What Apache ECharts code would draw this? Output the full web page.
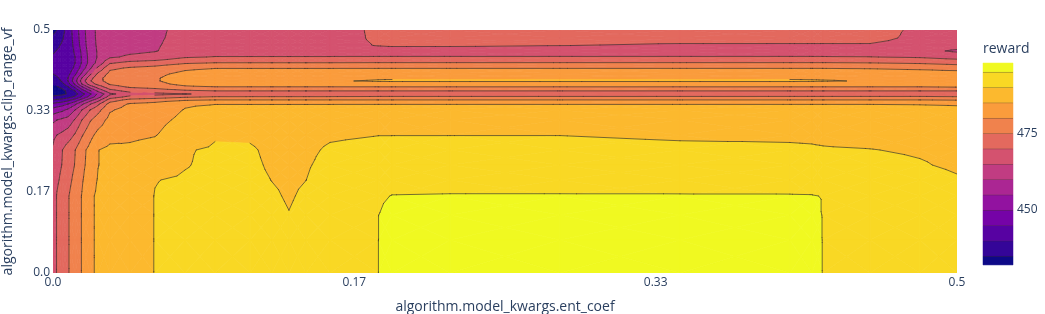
<!DOCTYPE html>
<html><head><meta charset="utf-8">
<script src="https://cdn.jsdelivr.net/npm/echarts@6/dist/echarts.min.js"></script>
<style>html,body{margin:0;padding:0;background:#fff}#chart{width:1045px;height:314px}</style>
</head><body><div id="chart"></div>
<script>
// ---- data ----
const entCoef = [0, 0.0022, 0.005, 0.0083, 0.0122, 0.016, 0.0205, 0.0249, 0.0315, 0.0426, 0.0564, 0.073, 0.0896, 0.109, 0.1211, 0.1305, 0.1399, 0.1532, 0.1798, 0.1875, 0.2196, 0.2804, 0.3468, 0.4076, 0.4198, 0.4259, 0.4519, 0.4795, 0.5];
const clipRangeVf = [0.5, 0.4835, 0.4691, 0.4568, 0.4444, 0.4321, 0.4218, 0.4095, 0.4012, 0.3951, 0.3889, 0.3827, 0.3745, 0.3683, 0.3621, 0.356, 0.3477, 0.3354, 0.3148, 0.284, 0.2531, 0.2222, 0.1914, 0.1584, 0.1193, 0.0679, 0];
// reward[i][j] = reward at entCoef[i], clipRangeVf[j]
const reward = [
[433.5,436,438,439.5,440.5,441,441,440,438.5,437,435.5,433.5,432.1,433,436,440,446,452,459,464,465.5,466.5,467,467.5,467.5,467.6,467.7],
[435,437.5,439.2,440.2,440.8,441.2,441.2,440.8,439.5,438.5,436.5,434.5,432.6,433.5,436.5,440.8,447,453,460,465,468.3,468.6,469.3,470.3,470.3,470.3,470.3],
[438.5,439.5,440.5,440.8,441,441.3,441.5,441.5,441,440.5,438.5,436,433.5,434,437,441.5,448,454,461,466,469.8,470.1,471,472.2,472.2,472.2,472.2],
[442,442,441.8,441.5,441.5,441.5,442,443.5,445,445,443,439.5,436,435.5,438.5,443.5,450,456,462,467.5,472.5,472.7,473.5,474.6,474.6,474.6,474.6],
[447.5,447,446.5,445.8,445,445,446,449,452,453,451,446,440,438,441,447,454,460,465.5,470.5,474.9,475.2,476.3,477.5,477.5,477.5,477.5],
[452.5,452.2,451.8,451,450.5,450.5,452,456,460,462,460,454,447,443,446,452,459,465,470,474.5,478.5,478.8,479.5,480.2,480.2,480.2,480.2],
[458.5,458.3,458,457.5,457,457,459,464,468,469.5,467.5,462,454,449,452,458,464.5,470,474.5,478.5,481.5,481.8,482.8,484.1,484.1,484.1,484.1],
[460.8,460.8,460.7,460.5,460.5,461.5,466,471,473.5,473.5,471.5,467,461,456,458,463,469,473.5,477.5,481.5,484.9,484.9,485.3,485.8,485.8,485.8,485.8],
[462,462.3,462.6,463,464.3,469.5,474,476.5,477.2,477,475.5,473,468,464,467.5,472.5,477,479.5,481.5,483.5,486,486.3,486.5,486.6,486.6,486.6,486.6],
[463,463.3,463.6,464,465.8,471.5,475.5,477.8,478.5,478.5,477.5,475.5,471.5,467.5,471.5,476.5,480.5,481.8,483,484.2,485.8,487,487.7,488,488,488,488],
[464.3,464.4,464.6,464.8,466.5,472.5,476.5,478.8,479.5,479.5,478.5,476.5,472.5,468.5,472.5,477.8,481.5,482.8,483.8,484.8,486.6,488.5,489.9,490.1,490.1,490.1,490.1],
[466,466.2,466.5,466.8,469.5,474.5,479,481.3,482.3,482.5,481.5,479,474,469.8,474.5,479.5,484.5,485.2,486,487.5,489.7,489.8,490.4,490.8,491.1,491.3,491.3],
[467.2,467.4,467.6,467.8,470.2,475.2,479.8,482.5,483.8,484.2,482.8,479.8,474.9,470.8,475.5,480.1,484.9,486.2,487.3,489.6,490.5,490.8,491,491.3,491.5,491.5,491.5],
[467.6,467.8,468,467.8,470.2,475.2,479.8,482.5,483.8,484.2,482.8,479.8,474.9,471.5,475.5,480.1,484.9,486.2,487.3,489.5,490.4,490.6,490.8,491,491.2,491.3,491.3],
[468,468,468,467.8,470.2,475.2,479.8,482.5,483.8,484.2,482.8,479.8,474.9,471.5,475.5,480.1,484.9,486.2,487.3,488.8,489.3,489.6,489.95,490.4,490.8,491,491],
[468,468,468,467.8,470.2,475.2,479.8,482.5,483.8,484.2,482.8,479.8,474.9,471.5,475.5,480.1,484.9,486.2,487.3,488.5,489,489.3,489.5,489.7,490.1,490.6,490.9],
[468,468,468,467.8,470.2,475.2,479.8,482.5,483.8,484.2,482.8,479.8,474.9,471.5,475.5,480.1,484.9,486.2,487.3,489,489.4,489.7,489.98,490.5,490.9,491.1,491.2],
[468,468,468,467.8,470.2,475.2,479.8,482.6,484,484.7,482.9,479.8,474.9,471.8,475.5,480.1,484.9,486.3,487.5,489.6,490.4,490.9,491.4,491.8,492,492,492],
[470.8,470.7,470.3,468.3,470.2,475.3,479.8,483,484.6,485.3,483.2,479.8,474.9,472.5,475.6,480.1,484.9,486.5,487.8,489.95,490.9,491.8,493,494.5,494.95,494.95,494.95],
[471.3,471.2,470.6,468.2,470.2,475.3,479.8,483,484.6,485.4,483.2,479.8,474.9,472.5,475.6,480.1,484.9,486.5,487.8,489.95,491.1,492.2,493.7,495.1,496,496.8,497],
[472,471.5,470.6,468.2,470.2,475.3,479.8,483,484.6,485.4,483.2,479.8,474.9,472.5,475.6,480.1,484.9,486.5,487.8,489.95,491.2,492.4,493.8,495.2,496.2,497.2,497.3],
[472,471.5,470.2,468.2,470.2,475.3,479.8,483,484.6,485.4,483.2,479.8,474.9,472.5,475.6,480.1,484.9,486.5,487.8,489.95,491.2,492.4,493.8,495.2,496.4,497.5,497.9],
[472,471.5,469.6,468.2,470.2,475.3,479.8,483,484.6,485.4,483.2,479.8,474.9,472.5,475.6,480.1,484.9,486.5,487.8,489.5,490.8,492,493.7,495.2,496.4,497.4,497.8],
[472,471.5,469.6,468.2,470.2,475.3,479.8,483,484.6,485.4,483.2,479.8,474.9,472.5,475.6,480.1,484.9,486.5,487.8,489.5,490.5,491.8,493.5,495.2,496.2,496.8,497],
[472,471.5,469.6,468.2,470.2,475.3,479.8,483,484.6,485.3,483.2,479.8,474.9,472.5,475.6,480.1,484.9,486.5,487.8,489.4,490.4,491.7,493.3,495.15,495.8,496.2,496.3],
[472,471.5,469.6,468,470.2,475.3,479.8,483,484.6,485.2,483.2,479.8,474.9,472.5,475.6,480.1,484.9,486.5,487.8,489.2,490.3,491.5,492.7,494.9,494.9,494.9,494.9],
[472,471.5,469.6,467.5,470.1,475.1,479.6,482.8,484.5,484.8,483.4,479.8,474.9,472.5,475.6,480.1,484.9,486.5,487.8,488.8,490.1,491,492.3,493.2,493.5,493.7,493.7],
[469,468.8,468,466.5,469.5,474.5,479,482.5,484.5,484.7,483.5,479.8,474.9,472.5,475.6,480.1,484.8,486.3,487.6,488.5,489.6,490.3,491.5,492.5,493,493.2,493.2],
[468,467.5,467,464.3,468,473.5,478,482.5,484.5,484.7,483.8,480.2,474.9,472.5,475.3,479.8,484.6,486,487.3,488.2,489,489.4,490.4,491.5,492.3,492.6,492.8]
];
const contourLevels = [435, 440, 445, 450, 455, 460, 465, 470, 475, 480, 485, 490, 495];
const xTickLabels = ['0.0', '0.17', '0.33', '0.5'];
const yTickLabels = ['0.0', '0.17', '0.33', '0.5'];
const colorbarTicks = [450, 475];
const xTitle = 'algorithm.model_kwargs.ent_coef';
const yTitle = 'algorithm.model_kwargs.clip_range_vf';
const colorbarTitle = 'reward';

// ---- styling / rendering ----
const plasma = ['#0d0887','#46039f','#7201a8','#9c179e','#bd3786','#d8576b','#ed7953','#fb9f3a','#fdca26','#f0f921'];
function hexRgb(h){return [parseInt(h.slice(1,3),16),parseInt(h.slice(3,5),16),parseInt(h.slice(5,7),16)];}
function plasmaAt(t){
  const p = t*(plasma.length-1); const i = Math.min(Math.floor(p), plasma.length-2); const f = p-i;
  const a = hexRgb(plasma[i]), b = hexRgb(plasma[i+1]);
  return 'rgb(' + a.map((v,k)=>Math.round(v+(b[k]-v)*f)).join(',') + ')';
}
const nBands = contourLevels.length + 1;
const bandColors = Array.from({length:nBands}, (_,k)=>plasmaAt(k/(nBands-1)));
let zMin = Infinity, zMax = -Infinity;
reward.forEach(c=>c.forEach(v=>{zMin=Math.min(zMin,v);zMax=Math.max(zMax,v);}));

function zval(i,j){ const v = reward[i][j]; return contourLevels.indexOf(v) >= 0 ? v + 0.001 : v; }
function clip(poly, level, above){
  const out = [];
  for (let a=0;a<poly.length;a++){
    const P = poly[a], Q = poly[(a+1)%poly.length];
    const pIn = above ? P[2] >= level : P[2] <= level;
    const qIn = above ? Q[2] >= level : Q[2] <= level;
    if (pIn) out.push(P);
    if (pIn !== qIn){
      const t = (level-P[2])/(Q[2]-P[2]);
      out.push([P[0]+t*(Q[0]-P[0]), P[1]+t*(Q[1]-P[1]), level]);
    }
  }
  return out;
}
function triangles(api, i, j){
  const c = (ii,jj)=>{const p = api.coord([entCoef[ii], clipRangeVf[jj]]); return [p[0],p[1],zval(ii,jj)];};
  const a=c(i,j), b=c(i+1,j), d=c(i+1,j+1), e=c(i,j+1);
  const m=[(a[0]+b[0]+d[0]+e[0])/4,(a[1]+b[1]+d[1]+e[1])/4,(a[2]+b[2]+d[2]+e[2])/4];
  return [[a,b,m],[b,d,m],[d,e,m],[e,a,m]];
}
const cells = [];
for (let i=0;i<entCoef.length-1;i++) for (let j=0;j<clipRangeVf.length-1;j++)
  cells.push([(entCoef[i]+entCoef[i+1])/2, (clipRangeVf[j]+clipRangeVf[j+1])/2, i, j]);

function renderFill(params, api){
  const i = api.value(2), j = api.value(3);
  const children = [];
  for (const tri of triangles(api,i,j)){
    const zs = tri.map(p=>p[2]); const mn = Math.min(...zs), mx = Math.max(...zs);
    for (let k=0;k<nBands;k++){
      const lo = k===0 ? -Infinity : contourLevels[k-1];
      const hi = k===nBands-1 ? Infinity : contourLevels[k];
      if (mx < lo || mn > hi) continue;
      let poly = tri;
      if (lo > -Infinity) poly = clip(poly, lo, true);
      if (poly.length>=3 && hi < Infinity) poly = clip(poly, hi, false);
      if (poly.length < 3) continue;
      children.push({type:'polygon', shape:{points: poly.map(p=>[p[0],p[1]])},
        style:{fill:bandColors[k], stroke:bandColors[k], lineWidth:0.7}});
    }
  }
  return {type:'group', children};
}
function renderLines(params, api){
  const i = api.value(2), j = api.value(3);
  const children = [];
  for (const tri of triangles(api,i,j)){
    for (const L of contourLevels){
      const pts = [];
      for (let a=0;a<3;a++){
        const P = tri[a], Q = tri[(a+1)%3];
        if ((P[2]-L)*(Q[2]-L) < 0){
          const t = (L-P[2])/(Q[2]-P[2]);
          pts.push([P[0]+t*(Q[0]-P[0]), P[1]+t*(Q[1]-P[1])]);
        }
      }
      if (pts.length===2) children.push({type:'line', shape:{x1:pts[0][0],y1:pts[0][1],x2:pts[1][0],y2:pts[1][1]},
        style:{stroke:'rgba(55,45,45,0.85)', lineWidth:0.8, lineCap:'round'}});
    }
  }
  return {type:'group', children};
}
const bands = Array.from({length:nBands},(_,k)=>[0.5, k]);
function renderBar(params, api){
  const k = api.value(1);
  const lo = Math.max(k===0 ? -Infinity : contourLevels[k-1], zMin);
  const hi = Math.min(k===nBands-1 ? Infinity : contourLevels[k], zMax);
  const p0 = api.coord([0, lo]), p1 = api.coord([1, hi]);
  const children = [{type:'rect', shape:{x:p0[0], y:p1[1], width:p1[0]-p0[0], height:p0[1]-p1[1]},
    style:{fill:bandColors[k], stroke:bandColors[k], lineWidth:0.5}}];
  if (k < nBands-1){
    children.push({type:'line', shape:{x1:p0[0], y1:p1[1], x2:p1[0], y2:p1[1]}, style:{stroke:'rgba(55,45,45,0.9)', lineWidth:1}});
  }
  return {type:'group', children};
}

const font = "'Open Sans', verdana, arial, sans-serif";
const txt = '#2a3f5f';
const chart = echarts.init(document.getElementById('chart'), null, {renderer:'canvas'});
chart.setOption({
  animation:false,
  backgroundColor:'#fff',
  grid:[
    {left:53, right:88, top:30, bottom:41, containLabel:false, outerBoundsMode:'none'},
    {left:983, width:30, top:56.6, height:230.1, containLabel:false, outerBoundsMode:'none'}
  ],
  xAxis:[
    {type:'value', min:0, max:0.5, interval:1/6, gridIndex:0,
     name:xTitle, nameLocation:'middle', nameGap:27,
     nameTextStyle:{fontFamily:font, fontSize:14, color:txt},
     axisLine:{show:false}, axisTick:{show:false}, splitLine:{show:false},
     axisLabel:{margin:4, fontFamily:font, fontSize:12, color:txt,
       formatter:v=>xTickLabels[Math.round(v*6)]}},
    {type:'value', min:0, max:1, gridIndex:1, show:false}
  ],
  yAxis:[
    {type:'value', min:0, max:0.5, interval:1/6, gridIndex:0,
     name:yTitle, nameLocation:'middle', nameGap:32, nameRotate:90,
     nameTextStyle:{fontFamily:font, fontSize:14, color:txt},
     axisLine:{show:false}, axisTick:{show:false}, splitLine:{show:false},
     axisLabel:{margin:3, fontFamily:font, fontSize:12, color:txt,
       formatter:v=>yTickLabels[Math.round(v*6)]}},
    {type:'value', min:425, max:500, interval:25, gridIndex:1, position:'right',
     axisLine:{show:false}, axisTick:{show:false}, splitLine:{show:false},
     axisLabel:{margin:4, fontFamily:font, fontSize:12, color:txt,
       formatter:v=>colorbarTicks.indexOf(v)>=0 ? String(v) : ''}}
  ],
  graphic:[{type:'text', left:983, top:42, style:{text:colorbarTitle, font:'14px ' + font, fill:txt}}],
  series:[
    {type:'custom', xAxisIndex:0, yAxisIndex:0, data:cells, renderItem:renderFill, clip:true, z:1, silent:true},
    {type:'custom', xAxisIndex:0, yAxisIndex:0, data:cells, renderItem:renderLines, clip:true, z:2, silent:true},
    {type:'custom', xAxisIndex:1, yAxisIndex:1, data:bands, renderItem:renderBar, z:1, silent:true}
  ]
});
</script>
</body></html>
